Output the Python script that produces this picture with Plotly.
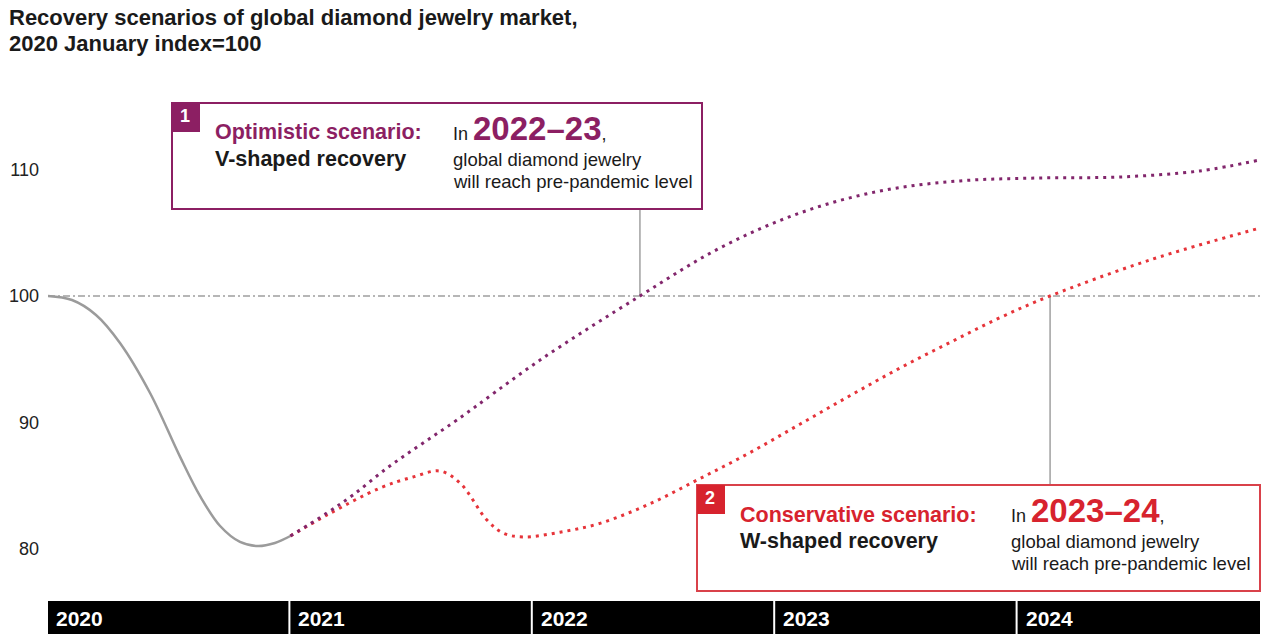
import plotly.graph_objects as go

# ---------------- data ----------------
years = [2020, 2021, 2022, 2023, 2024]
y_ticks = [80, 90, 100, 110]
pre_pandemic_level = 100

# Observed index through the 2020 slump
actual_x = [2020.0, 2020.099, 2020.198, 2020.297, 2020.421, 2020.545, 2020.627, 2020.710,
            2020.792, 2020.866, 2020.936, 2021.0]
actual_y = [100.0, 99.68, 98.50, 96.28, 92.32, 87.26, 84.17, 81.79,
            80.53, 80.21, 80.45, 81.0]

# Scenario 1: V-shaped recovery
optimistic_x = [2021.0, 2021.151, 2021.258, 2021.399, 2021.535, 2021.687, 2022.03, 2022.442,
                2022.772, 2023.102, 2023.432, 2023.762, 2024.092, 2024.422, 2024.752, 2025.0]
optimistic_y = [81.0, 82.82, 84.24, 86.38, 88.2, 90.18, 94.93, 100.0,
                103.8, 106.57, 108.31, 109.11, 109.34, 109.42, 109.9, 110.77]

# Scenario 2: W-shaped recovery
conservative_x = [2021.0, 2021.151, 2021.370, 2021.506, 2021.617, 2021.700, 2021.811, 2021.877,
                  2021.960, 2022.112, 2022.277, 2022.483, 2022.690, 2022.896, 2023.102, 2023.308,
                  2023.515, 2023.721, 2023.927, 2024.134, 2024.546, 2025.0]
conservative_y = [81.0, 82.66, 84.80, 85.67, 86.14, 85.19, 82.26, 81.24,
                  80.92, 81.30, 82.0, 83.55, 85.55, 87.6, 89.85, 92.1,
                  94.3, 96.32, 98.28, 100.0, 102.85, 105.38]

# ---------------- geometry ----------------
W, H = 1267, 634
M_L, M_R, M_T, M_B = 48, 7, 60, 38
X_RANGE = [2020, 2025]
Y_RANGE = [76.25, 118.68]
PLOT_W = W - M_L - M_R
PLOT_H = H - M_T - M_B

FONT = "Liberation Sans, Arial, Helvetica, sans-serif"
PURPLE = "#8C1F63"
PURPLE_DOT = "#82266C"
RED = "#D7232E"
RED_BOX = "#D9414A"
RED_DOT = "#E6343A"
GREY = "#9B9B9B"
INK = "#1A1A1A"


def paper_x(px):
    return (px - M_L) / PLOT_W


def paper_y(py):
    return (H - M_B - py) / PLOT_H


def data_y(py):
    return Y_RANGE[0] + paper_y(py) * (Y_RANGE[1] - Y_RANGE[0])


def crossing(xs, ys, level):
    """x where the series climbs back through `level` after its low point."""
    lo = ys.index(min(ys))
    for i in range(lo, len(ys) - 1):
        if ys[i] <= level <= ys[i + 1]:
            t = (level - ys[i]) / (ys[i + 1] - ys[i])
            return xs[i] + t * (xs[i + 1] - xs[i])
    return xs[-1]


fig = go.Figure()

fig.add_trace(go.Scatter(
    x=actual_x, y=actual_y, mode="lines", hoverinfo="skip",
    line=dict(color=GREY, width=2.5, shape="spline"),
))
fig.add_trace(go.Scatter(
    x=conservative_x, y=conservative_y, mode="lines", hoverinfo="skip",
    line=dict(color=RED_DOT, width=3, shape="spline", dash="3px,5px"),
))
fig.add_trace(go.Scatter(
    x=optimistic_x, y=optimistic_y, mode="lines", hoverinfo="skip",
    line=dict(color=PURPLE_DOT, width=3, shape="spline", dash="3px,5px"),
))

shapes = []
annotations = []

# pre-pandemic reference level
shapes.append(dict(type="line", xref="x", yref="y", layer="below",
                   x0=X_RANGE[0], x1=X_RANGE[1], y0=pre_pandemic_level, y1=pre_pandemic_level,
                   line=dict(color="#9E9E9E", width=1.3, dash="7px,3px,2px,3px")))


def text(px, py, s, size, color, bold=False, xanchor="left"):
    annotations.append(dict(
        xref="paper", yref="paper", x=paper_x(px), y=paper_y(py),
        xanchor=xanchor, yanchor="middle", showarrow=False, borderpad=0,
        text=f"<b>{s}</b>" if bold else s,
        font=dict(family=FONT, size=size, color=color),
    ))


# scenario call-out boxes
scenarios = [
    dict(num="1", color=PURPLE, border=PURPLE, box=(172, 103, 702, 209),
         title="Optimistic scenario:", shape_name="V-shaped recovery", period="2022–23",
         col2=452, xs=optimistic_x, ys=optimistic_y, above=True),
    dict(num="2", color=RED, border=RED_BOX, box=(697, 485, 1260, 591),
         title="Conservative scenario:", shape_name="W-shaped recovery", period="2023–24",
         col2=1010, xs=conservative_x, ys=conservative_y, above=False),
]

for sc in scenarios:
    l, t, r, b = sc["box"]
    shapes.append(dict(type="rect", xref="paper", yref="paper",
                       x0=paper_x(l), x1=paper_x(r), y0=paper_y(b), y1=paper_y(t),
                       line=dict(color=sc["border"], width=2), fillcolor="white"))
    shapes.append(dict(type="rect", xref="paper", yref="paper",
                       x0=paper_x(l), x1=paper_x(l + 28), y0=paper_y(t + 29), y1=paper_y(t),
                       line=dict(width=0), fillcolor=sc["color"]))
    text(l + 13, t + 13, sc["num"], 18, "white", bold=True, xanchor="center")

    # leader from the 100 crossing to the box
    xc = crossing(sc["xs"], sc["ys"], pre_pandemic_level)
    edge = data_y(b) if sc["above"] else data_y(t)
    shapes.append(dict(type="line", xref="x", yref="y", layer="below",
                       x0=xc, x1=xc, y0=pre_pandemic_level, y1=edge,
                       line=dict(color="#A0A0A0", width=1.5)))

    lx = l + 42
    text(lx, t + 37 - 7.5, sc["title"], 21.5, sc["color"], bold=True)
    text(lx, t + 63 - 7.5, sc["shape_name"], 21.5, INK, bold=True)
    c2 = sc["col2"]
    text(c2, t + 37 - 11.5,
         f"In <span style='font-size:33px;color:{sc['color']}'><b>{sc['period']}</b></span>,",
         18, INK)
    text(c2, t + 63 - 6.4, "global diamond jewelry", 18.5, INK)
    text(c2, t + 85 - 6.4, "will reach pre-pandemic level", 18.5, INK)

# year bands under the plot
band_gap = 2 / PLOT_W * (X_RANGE[1] - X_RANGE[0])
for yr in years:
    shapes.append(dict(type="rect", xref="x", yref="paper",
                       x0=yr, x1=yr + 1 - (band_gap if yr != years[-1] else 0),
                       y0=paper_y(H + 2), y1=paper_y(601),
                       line=dict(width=0), fillcolor="black"))
    annotations.append(dict(
        xref="x", yref="paper", x=yr + 7 / PLOT_W * 5, y=paper_y(618),
        xanchor="left", yanchor="middle", showarrow=False, borderpad=0,
        text=f"<b>{yr}</b>", font=dict(family=FONT, size=21, color="white"),
    ))

# chart title
text(8, 17.6, "Recovery scenarios of global diamond jewelry market,", 22, INK, bold=True)
text(8, 43.6, "2020 January index=100", 22, INK, bold=True)

fig.update_layout(
    width=W, height=H,
    margin=dict(l=M_L, r=M_R, t=M_T, b=M_B),
    paper_bgcolor="white", plot_bgcolor="white",
    showlegend=False,
    font=dict(family=FONT, color=INK),
    shapes=shapes, annotations=annotations,
    xaxis=dict(range=X_RANGE, visible=False, fixedrange=True),
    yaxis=dict(range=Y_RANGE, tickvals=y_ticks, ticks="", showgrid=False, zeroline=False,
               showline=False, tickfont=dict(size=18, color="#222222", family=FONT),
               ticklabelstandoff=8, fixedrange=True),
)

fig.write_html("out.html", config={"displayModeBar": False})
